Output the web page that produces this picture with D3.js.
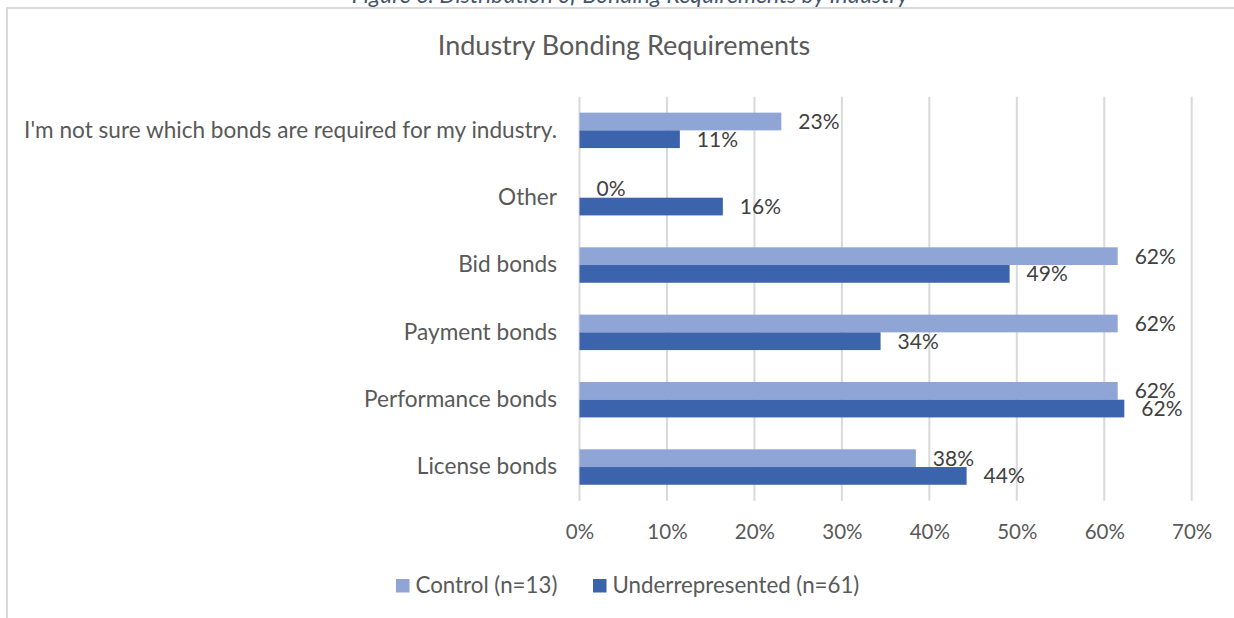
<!DOCTYPE html>
<html>
<head>
<meta charset="utf-8">
<script src="https://cdn.jsdelivr.net/npm/d3@7"></script>
<style>
  html, body { margin: 0; padding: 0; background: #fff; }
  svg { display: block; font-family: Lato, "Open Sans", sans-serif; }
</style>
</head>
<body>
<svg id="chart" width="1234" height="618"></svg>
<script>
// categories, top to bottom as drawn
const categories = [
    "I'm not sure which bonds are required for my industry.",
    "Other",
    "Bid bonds",
    "Payment bonds",
    "Performance bonds",
    "License bonds"
]
const seriesNames = ["Control (n=13)", "Underrepresented (n=61)"]
const controlValues = [3 / 13, 0, 8 / 13, 8 / 13, 8 / 13, 5 / 13]
const underValues = [7 / 61, 10 / 61, 30 / 61, 21 / 61, 38 / 61, 27 / 61]
const xTicks = [0, 0.1, 0.2, 0.3, 0.4, 0.5, 0.6, 0.7]
const seriesColors = ["#8fa5d6", "#3c64ad"]

const svg = d3.select("#chart")

// caption, cut off at top like the reference
svg.append("text")
    .attr("x", 630).attr("y", 3)
    .attr("text-anchor", "middle")
    .attr("font-style", "italic")
    .attr("font-size", "23px")
    .attr("fill", "#44546a")
    .text("Figure 6: Distribution of Bonding Requirements by Industry")

// 外框
svg.append("rect")
    .attr("x", 7).attr("y", 8)
    .attr("width", 1240).attr("height", 620)
    .attr("fill", "#fff")
    .attr("stroke", "#d9d9d9")
    .attr("stroke-width", 2)

// scales
const x = d3.scaleLinear().domain([0, 0.7]).range([579.5, 1191.7])
const y = d3.scaleBand().domain(categories).range([96.7, 500.7]).padding(0)
const ySeries = d3.scaleBand().domain(seriesNames).range([0, y.bandwidth()])
    .paddingInner(0).paddingOuter(0.9)

// title
svg.append("text")
    .attr("x", 624).attr("y", 48)
    .attr("text-anchor", "middle")
    .attr("dominant-baseline", "middle")
    .attr("font-size", "27px")
    .attr("fill", "#595959")
    .text("Industry Bonding Requirements")

// gridlines
svg.append("g")
    .selectAll("line")
    .data(xTicks)
    .join("line")
    .attr("x1", d => x(d)).attr("x2", d => x(d))
    .attr("y1", 96.7).attr("y2", 500.7)
    .attr("stroke", "#d9d9d9")
    .attr("stroke-width", 2)

// x axis labels
const xAxis = svg.append("g")
    .attr("transform", `translate(0, 532)`)
    .call(d3.axisBottom(x).tickValues(xTicks).tickFormat(d3.format(".0%")).tickSize(0).tickPadding(0))
xAxis.select(".domain").remove()
xAxis.selectAll("text")
    .attr("y", 0).attr("dy", "0.35em")
    .attr("font-family", "Lato, sans-serif")
    .attr("font-size", "20.5px")
    .attr("fill", "#595959")

// category labels
const yAxis = svg.append("g")
    .attr("transform", `translate(557, 0)`)
    .call(d3.axisLeft(y).tickSize(0).tickPadding(0))
yAxis.select(".domain").remove()
yAxis.selectAll("text")
    .attr("x", 0)
    .attr("font-family", "Lato, sans-serif")
    .attr("font-size", "22.6px")
    .attr("fill", "#595959")

// bars
const rows = categories.map((c, i) => ({
    category: c,
    values: [
        { series: seriesNames[0], value: controlValues[i], color: seriesColors[0] },
        { series: seriesNames[1], value: underValues[i], color: seriesColors[1] }
    ]
}))

const group = svg.append("g")
    .selectAll("g")
    .data(rows)
    .join("g")
    .attr("transform", d => `translate(0, ${y(d.category)})`)

group.selectAll("rect")
    .data(d => d.values)
    .join("rect")
    .attr("x", x(0))
    .attr("y", d => ySeries(d.series))
    .attr("width", d => x(d.value) - x(0))
    .attr("height", ySeries.bandwidth())
    .attr("fill", d => d.color)

// data labels
group.selectAll("text")
    .data(d => d.values)
    .join("text")
    .attr("x", d => x(d.value) + 17)
    .attr("y", d => ySeries(d.series) + ySeries.bandwidth() / 2)
    .attr("dy", "0.35em")
    .attr("font-size", "21px")
    .attr("fill", "#404040")
    .text(d => Math.round(d.value * 100) + "%")

// legend
const legend = svg.append("g")
    .selectAll("g")
    .data(seriesNames)
    .join("g")
    .attr("transform", (d, i) => `translate(${[396, 593][i]}, 579)`)

legend.append("rect")
    .attr("width", 13.5).attr("height", 13.5)
    .attr("fill", (d, i) => seriesColors[i])

legend.append("text")
    .attr("x", 19.5).attr("y", 6.5)
    .attr("dy", "0.35em")
    .attr("font-size", "22.3px")
    .attr("fill", "#595959")
    .text(d => d)
</script>
</body>
</html>
